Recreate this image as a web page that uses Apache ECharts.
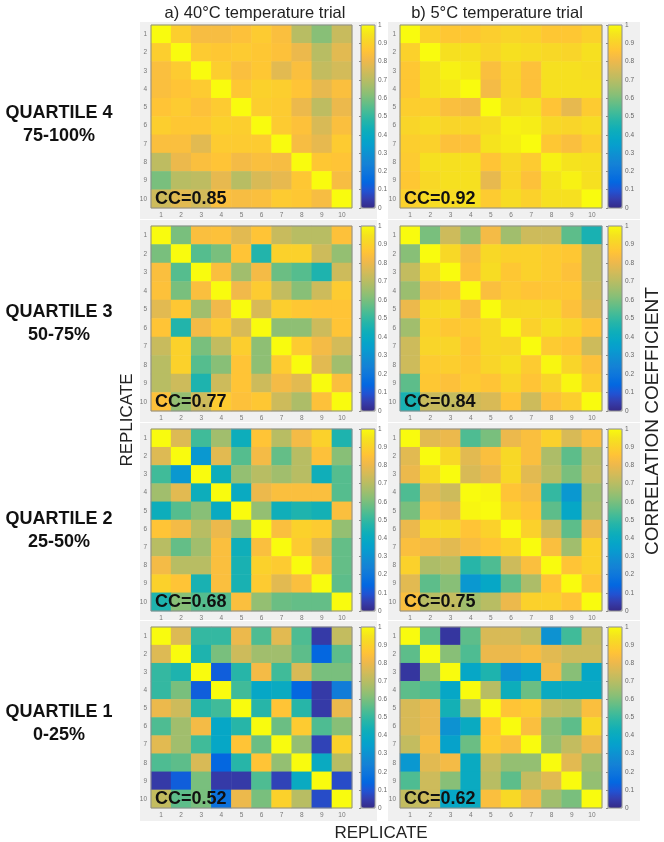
<!DOCTYPE html>
<html><head><meta charset="utf-8">
<script src="https://cdn.jsdelivr.net/npm/echarts@6/dist/echarts.min.js"></script>
<style>html,body{margin:0;padding:0;background:#fff}#c{width:664px;height:842px}</style>
</head><body><div id="c"></div>
<script>
// ---------------- DATA ----------------
const replicates = ['1','2','3','4','5','6','7','8','9','10'];
const trialTitles = ['a) 40°C temperature trial', 'b) 5°C temperature trial'];
const quartileNames = ['QUARTILE 4', 'QUARTILE 3', 'QUARTILE 2', 'QUARTILE 1'];
const quartileRanges = ['75-100%', '50-75%', '25-50%', '0-25%'];
const ccLabels = ['CC=0.85', 'CC=0.92', 'CC=0.77', 'CC=0.84', 'CC=0.68', 'CC=0.75', 'CC=0.52', 'CC=0.62'];
const colorbarMin = 0, colorbarMax = 1, colorbarStep = 0.1;

// rows = replicate (y), columns = replicate (x)
const q4_40C = [
  [1.00,0.89,0.83,0.83,0.85,0.88,0.84,0.70,0.62,0.73],
  [0.89,1.00,0.88,0.87,0.88,0.87,0.85,0.80,0.70,0.78],
  [0.84,0.88,1.00,0.89,0.84,0.87,0.78,0.84,0.72,0.75],
  [0.84,0.86,0.88,1.00,0.87,0.90,0.89,0.86,0.79,0.84],
  [0.86,0.88,0.85,0.88,1.00,0.89,0.88,0.80,0.71,0.80],
  [0.89,0.87,0.87,0.90,0.89,1.00,0.88,0.85,0.76,0.84],
  [0.84,0.84,0.78,0.88,0.88,0.88,1.00,0.83,0.79,0.88],
  [0.71,0.80,0.84,0.86,0.82,0.84,0.83,1.00,0.87,0.86],
  [0.60,0.70,0.71,0.79,0.70,0.76,0.79,0.87,1.00,0.83],
  [0.74,0.78,0.75,0.84,0.83,0.84,0.88,0.87,0.83,1.00]
];
const q4_5C = [
  [1.00,0.90,0.87,0.87,0.89,0.91,0.90,0.87,0.87,0.90],
  [0.90,1.00,0.94,0.94,0.91,0.94,0.93,0.92,0.91,0.94],
  [0.87,0.94,0.98,0.96,0.84,0.91,0.85,0.94,0.94,0.93],
  [0.87,0.94,0.96,1.00,0.82,0.91,0.85,0.94,0.94,0.94],
  [0.89,0.89,0.84,0.82,1.00,0.93,0.95,0.86,0.79,0.88],
  [0.91,0.93,0.91,0.91,0.93,0.98,0.97,0.92,0.91,0.93],
  [0.89,0.90,0.85,0.85,0.95,0.97,1.00,0.87,0.84,0.89],
  [0.88,0.94,0.94,0.94,0.86,0.92,0.88,0.98,0.95,0.94],
  [0.87,0.92,0.94,0.94,0.79,0.91,0.85,0.95,0.98,0.94],
  [0.90,0.93,0.93,0.94,0.88,0.93,0.90,0.94,0.94,1.00]
];
const q3_40C = [
  [1.00,0.60,0.84,0.85,0.78,0.86,0.73,0.70,0.70,0.85],
  [0.60,1.00,0.55,0.60,0.86,0.47,0.90,0.90,0.74,0.64],
  [0.84,0.55,1.00,0.84,0.66,0.82,0.58,0.55,0.46,0.74],
  [0.85,0.60,0.84,1.00,0.81,0.88,0.72,0.62,0.74,0.88],
  [0.78,0.87,0.66,0.81,1.00,0.76,0.89,0.87,0.86,0.86],
  [0.86,0.47,0.82,0.88,0.76,1.00,0.63,0.63,0.74,0.86],
  [0.73,0.90,0.60,0.72,0.89,0.63,1.00,0.88,0.82,0.75],
  [0.70,0.90,0.55,0.62,0.86,0.63,0.88,1.00,0.78,0.66],
  [0.70,0.74,0.46,0.74,0.86,0.74,0.82,0.78,1.00,0.84],
  [0.85,0.64,0.74,0.88,0.85,0.87,0.74,0.68,0.85,1.00]
];
const q3_5C = [
  [1.00,0.60,0.74,0.64,0.82,0.66,0.74,0.74,0.56,0.45],
  [0.62,1.00,0.92,0.83,0.92,0.90,0.90,0.88,0.87,0.72],
  [0.72,0.92,1.00,0.85,0.93,0.87,0.90,0.88,0.85,0.72],
  [0.65,0.83,0.85,1.00,0.84,0.88,0.86,0.87,0.87,0.74],
  [0.80,0.92,0.93,0.84,1.00,0.92,0.92,0.91,0.85,0.76],
  [0.66,0.90,0.87,0.88,0.92,0.99,0.90,0.94,0.91,0.86],
  [0.74,0.91,0.91,0.86,0.92,0.91,1.00,0.88,0.86,0.74],
  [0.74,0.88,0.89,0.87,0.91,0.94,0.88,0.99,0.91,0.85],
  [0.56,0.87,0.85,0.88,0.86,0.91,0.86,0.91,0.99,0.89],
  [0.45,0.73,0.72,0.74,0.76,0.86,0.74,0.85,0.89,1.00]
];
const q2_40C = [
  [1.00,0.77,0.52,0.66,0.42,0.86,0.70,0.82,0.90,0.46],
  [0.77,1.00,0.32,0.78,0.55,0.82,0.57,0.70,0.85,0.62],
  [0.52,0.32,1.00,0.42,0.64,0.70,0.66,0.70,0.43,0.55],
  [0.66,0.78,0.42,1.00,0.40,0.80,0.84,0.84,0.84,0.55],
  [0.42,0.55,0.62,0.40,1.00,0.64,0.43,0.46,0.44,0.84],
  [0.86,0.82,0.70,0.80,0.64,1.00,0.84,0.90,0.88,0.64],
  [0.70,0.57,0.66,0.84,0.43,0.84,1.00,0.88,0.78,0.57],
  [0.82,0.70,0.70,0.84,0.45,0.90,0.88,1.00,0.84,0.57],
  [0.90,0.86,0.45,0.84,0.45,0.88,0.78,0.84,1.00,0.56],
  [0.46,0.62,0.55,0.55,0.84,0.64,0.58,0.57,0.57,1.00]
];
const q2_5C = [
  [1.00,0.78,0.80,0.54,0.60,0.80,0.84,0.90,0.76,0.84],
  [0.78,1.00,0.92,0.78,0.84,0.92,0.84,0.68,0.56,0.70],
  [0.80,0.92,1.00,0.76,0.80,0.92,0.78,0.70,0.60,0.72],
  [0.54,0.78,0.74,1.00,0.99,0.86,0.83,0.50,0.32,0.66],
  [0.60,0.84,0.80,0.99,1.00,0.90,0.86,0.56,0.38,0.68],
  [0.80,0.92,0.92,0.86,0.90,1.00,0.90,0.74,0.56,0.80],
  [0.84,0.82,0.78,0.83,0.86,0.90,1.00,0.84,0.66,0.90],
  [0.90,0.68,0.70,0.48,0.54,0.74,0.84,1.00,0.86,0.90],
  [0.78,0.56,0.62,0.32,0.38,0.56,0.68,0.86,1.00,0.86],
  [0.84,0.70,0.72,0.66,0.70,0.80,0.90,0.90,0.86,1.00]
];
const q1_40C = [
  [1.00,0.77,0.50,0.50,0.80,0.54,0.78,0.54,0.04,0.72],
  [0.77,1.00,0.46,0.60,0.74,0.66,0.66,0.56,0.14,0.56],
  [0.50,0.46,1.00,0.12,0.48,0.82,0.52,0.76,0.60,0.60],
  [0.50,0.60,0.12,1.00,0.52,0.38,0.40,0.14,0.04,0.22],
  [0.80,0.74,0.48,0.52,1.00,0.48,0.86,0.48,0.04,0.80],
  [0.54,0.66,0.82,0.38,0.48,1.00,0.58,0.88,0.54,0.62],
  [0.78,0.66,0.52,0.38,0.86,0.58,1.00,0.64,0.06,0.90],
  [0.54,0.56,0.76,0.14,0.48,0.86,0.64,1.00,0.40,0.70],
  [0.04,0.12,0.60,0.04,0.04,0.54,0.06,0.40,1.00,0.08],
  [0.72,0.56,0.60,0.18,0.80,0.60,0.90,0.70,0.08,1.00]
];
const q1_5C = [
  [1.00,0.56,0.03,0.56,0.76,0.76,0.72,0.30,0.52,0.72],
  [0.56,1.00,0.62,0.54,0.80,0.80,0.83,0.78,0.74,0.74],
  [0.03,0.62,1.00,0.38,0.46,0.30,0.36,0.82,0.62,0.38],
  [0.56,0.54,0.38,1.00,0.70,0.42,0.58,0.40,0.40,0.40],
  [0.76,0.80,0.44,0.68,1.00,0.86,0.88,0.72,0.70,0.84],
  [0.76,0.80,0.30,0.40,0.86,1.00,0.84,0.62,0.56,0.92],
  [0.72,0.83,0.36,0.58,0.88,0.84,1.00,0.64,0.72,0.80],
  [0.32,0.78,0.82,0.40,0.72,0.64,0.64,1.00,0.78,0.66],
  [0.54,0.74,0.62,0.40,0.70,0.56,0.72,0.78,1.00,0.64],
  [0.72,0.74,0.38,0.40,0.84,0.92,0.82,0.66,0.60,1.00]
];

// ---------------- STYLE / LAYOUT ----------------
const parula = ['#352a87','#353dad','#2053d4','#0268e1','#0d75dc','#1481d6','#108ed2','#079ccf','#06a7c6','#0faeb9','#25b5a9','#42bb98','#65be86','#87bf77','#a5be6b','#c0bc60','#d9ba56','#f1b94a','#ffc337','#fad32a','#f5e41d','#f9fb0e'];
const rowTop = [25, 226, 429, 627];
const rowH = [183, 185, 182, 181];
const colLeft = [151, 400];
const colW = [201, 202];
const cbLeft = [361, 608];
const cbW = 14;
const FONT = '"Liberation Sans", Arial, Helvetica, sans-serif';

const matrices = [q4_40C, q4_5C, q3_40C, q3_5C, q2_40C, q2_5C, q1_40C, q1_5C];

const grid = [], xAxis = [], yAxis = [], series = [], visualMap = [], graphic = [];

// grey panel backgrounds
for (let r = 0; r < 4; r++) {
  const y0 = r === 0 ? 22 : rowTop[r] - 6;
  const y1 = r === 3 ? 821 : rowTop[r + 1] - 7;
  graphic.push({type:'rect', z:-100, shape:{x:140, y:y0, width:237, height:y1 - y0}, style:{fill:'#f0f0f0'}});
  graphic.push({type:'rect', z:-100, shape:{x:388, y:y0, width:252, height:y1 - y0}, style:{fill:'#f0f0f0'}});
}

matrices.forEach((m, p) => {
  const r = Math.floor(p / 2), c = p % 2;
  const g = grid.length;
  grid.push({left:colLeft[c], top:rowTop[r], width:colW[c], height:rowH[r], show:true,
    backgroundColor:'rgba(0,0,0,0)', borderColor:'#8c8c8c', borderWidth:1, z:5});
  xAxis.push({gridIndex:g, type:'category', data:replicates, position:'bottom',
    axisLine:{show:false}, axisTick:{show:false}, splitLine:{show:false},
    axisLabel:{fontSize:6.5, color:'#777', margin:4, fontFamily:FONT}});
  yAxis.push({gridIndex:g, type:'category', data:replicates, inverse:true,
    axisLine:{show:false}, axisTick:{show:false}, splitLine:{show:false},
    axisLabel:{fontSize:6.5, color:'#777', margin:4, fontFamily:FONT}});
  const data = [];
  m.forEach((row, yi) => row.forEach((v, xi) => data.push([xi, yi, v])));
  series.push({type:'heatmap', xAxisIndex:g, yAxisIndex:g, data:data, silent:true,
    itemStyle:{borderWidth:0}, emphasis:{disabled:true}, progressive:0});
  visualMap.push({type:'continuous', min:colorbarMin, max:colorbarMax, seriesIndex:p, calculable:false,
    orient:'vertical', left:cbLeft[c], top:rowTop[r], itemWidth:cbW, itemHeight:rowH[r], padding:0,
    inRange:{color:parula}, text:null, hoverLink:false});
  // colorbar axis
  const g2 = grid.length;
  grid.push({left:cbLeft[c], top:rowTop[r], width:cbW, height:rowH[r], show:true,
    backgroundColor:'rgba(0,0,0,0)', borderColor:'#8c8c8c', borderWidth:1, z:5});
  xAxis.push({gridIndex:g2, type:'value', min:0, max:1, show:false});
  yAxis.push({gridIndex:g2, type:'value', min:colorbarMin, max:colorbarMax, interval:colorbarStep, position:'right',
    axisLine:{show:false}, splitLine:{show:false},
    axisTick:{show:true, inside:true, length:2, lineStyle:{color:'#888'}},
    axisLabel:{fontSize:6.5, color:'#666', margin:3, fontFamily:FONT}});
  // CC label
  graphic.push({type:'text', z:100, x:colLeft[c] + 4, y:rowTop[r] + rowH[r] - 9,
    style:{text:ccLabels[p], font:'bold 18px ' + FONT, fill:'#111', textVerticalAlign:'middle', verticalAlign:'middle'}});
});

// titles
const titleX = [255, 497];
trialTitles.forEach((t, i) => graphic.push({type:'text', x:titleX[i], y:13,
  style:{text:t, font:'16.5px ' + FONT, fill:'#222', align:'center', verticalAlign:'middle'}}));
// quartile labels
const qY = [113, 312, 519, 712];
quartileNames.forEach((q, i) => {
  graphic.push({type:'text', x:59, y:qY[i], style:{text:q, font:'bold 18px ' + FONT, fill:'#111', align:'center', verticalAlign:'middle'}});
  graphic.push({type:'text', x:59, y:qY[i] + 23, style:{text:quartileRanges[i], font:'bold 18px ' + FONT, fill:'#111', align:'center', verticalAlign:'middle'}});
});
// axis labels
graphic.push({type:'text', x:381, y:833, style:{text:'REPLICATE', font:'17px ' + FONT, fill:'#222', align:'center', verticalAlign:'middle'}});
graphic.push({type:'text', x:127, y:420, rotation:Math.PI / 2, style:{text:'REPLICATE', font:'17px ' + FONT, fill:'#222', align:'center', verticalAlign:'middle'}});
graphic.push({type:'text', x:653, y:421, rotation:Math.PI / 2, style:{text:'CORRELATION COEFFICIENT', font:'19px ' + FONT, fill:'#222', align:'center', verticalAlign:'middle'}});

const chart = echarts.init(document.getElementById('c'), null, {renderer:'canvas'});
chart.setOption({
  backgroundColor:'#ffffff',
  animation:false,
  grid, xAxis, yAxis, series, visualMap, graphic
});
</script>
</body></html>
